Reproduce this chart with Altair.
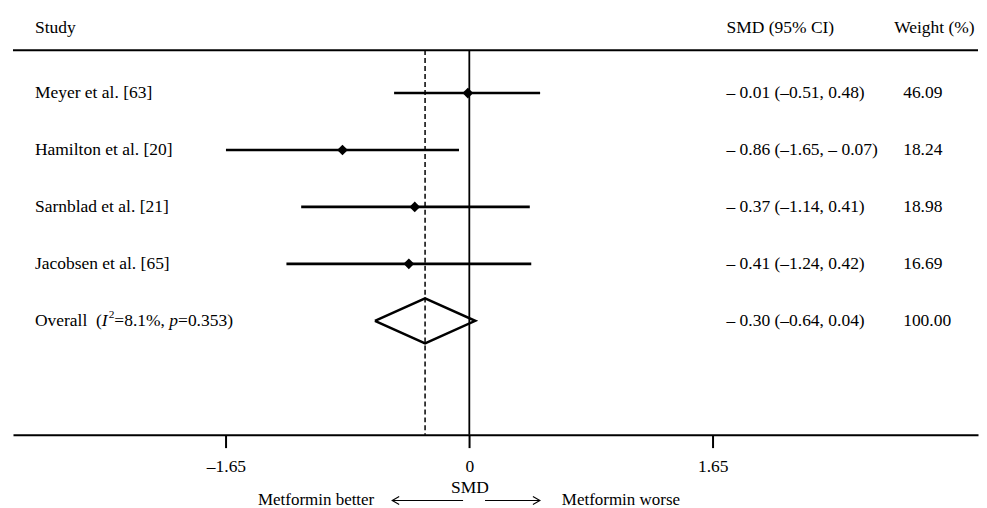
import altair as alt
import pandas as pd

# ---------------- data ----------------
studies = ["Meyer et al. [63]", "Hamilton et al. [20]", "Sarnblad et al. [21]", "Jacobsen et al. [65]"]
smd = [-0.01, -0.86, -0.37, -0.41]
ci_low = [-0.51, -1.65, -1.14, -1.24]
ci_high = [0.48, -0.07, 0.41, 0.42]
weights = [46.09, 18.24, 18.98, 16.69]
overall_smd = -0.30
overall_low = -0.64
overall_high = 0.04
overall_weight = 100.00
i_squared = "8.1%"
p_value = "0.353"
tick_values = [-1.65, 0, 1.65]
headers = ["Study", "SMD (95% CI)", "Weight (%)"]
x_title = "SMD"
left_note = "Metformin better"
right_note = "Metformin worse"

# ---------------- style ----------------
F = 17.5
FONT = "Liberation Serif"
W, H = 967, 425
X_DOMAIN = [-3.094, 3.449]
Y_DOMAIN = [-0.45, 7]
HEADER_ROW = -0.14
RULE_ROW = 0.246
AXIS_ROW = 7
DIAMOND_HALF = 0.395
COL_STUDY, COL_SMD, COL_WHDR, COL_W = 22, 715, 883, 892

xscale = alt.Scale(domain=X_DOMAIN, nice=False, zero=False)
yscale = alt.Scale(domain=Y_DOMAIN, reverse=True, nice=False, zero=False)

xaxis = alt.Axis(
    values=tick_values, grid=False, domainColor="black", domainWidth=2,
    tickColor="black", tickWidth=2, tickSize=13, labelFont=FONT, labelFontSize=F,
    labelColor="black", labelPadding=10, labelOverlap=False, labelFlush=False,
    labelExpr="datum.value == 0 ? '0' : (datum.value < 0 ? '\u2013' : '') + format(abs(datum.value), '.2f')",
    title=x_title, titleFont=FONT, titleFontSize=F, titleFontWeight="normal", titleColor="black",
    titleX=457.3, titleY=53, titleBaseline="middle", titleAlign="center",
)


def X(field):
    return alt.X(field, type="quantitative", scale=xscale, axis=xaxis)


def Y(field):
    return alt.Y(field, type="quantitative", scale=yscale, axis=None)


def neg(v, space):
    s = f"{abs(v):.2f}"
    if v < 0:
        return "\u2013" + (" " if space else "") + s
    return s


def ci_text(e, lo, hi):
    return f"{neg(e, True)} ({neg(lo, False)}, {neg(hi, True)})"


rows = list(range(1, len(studies) + 1))
overall_row = len(studies) + 1

df = pd.DataFrame({
    "study": studies, "smd": smd, "lo": ci_low, "hi": ci_high, "row": rows,
    "ci": [ci_text(e, l, h) for e, l, h in zip(smd, ci_low, ci_high)],
    "w": [f"{w:.2f}" for w in weights],
})
df_over = pd.DataFrame({
    "row": [overall_row],
    "ci": [ci_text(overall_smd, overall_low, overall_high)],
    "w": [f"{overall_weight:.2f}"],
})

# Times/Liberation Serif advance widths (per 1000 em)
WR = {" ": 250, "(": 333, ")": 333, "%": 833, ",": 250, ".": 250, "=": 564,
      "O": 722, "v": 500, "e": 444, "r": 333, "a": 444, "l": 278}
for d in "0123456789":
    WR[d] = 500
WI = {"I": 333, "p": 500}


def tw(s, size=F, table=WR):
    return sum(table[c] for c in s) * size / 1000.0


SUP = F * 0.65
x0 = COL_STUDY
x_par = x0 + tw("Overall") + 2 * tw(" ")
x_I = x_par + tw("(")
x_2 = x_I + tw("I", table=WI) + 1
x_eq = x_2 + tw("2", size=SUP)
x_p = x_eq + tw("=" + i_squared + ", ")
x_rest = x_p + tw("p", table=WI)

seg_normal = pd.DataFrame({
    "t": ["Overall", "(", "=" + i_squared + ",", "=" + p_value + ")"],
    "px": [x0, x_par, x_eq, x_rest],
    "row": [overall_row] * 4,
})
seg_italic = pd.DataFrame({"t": ["I", "p"], "px": [x_I, x_p], "row": [overall_row] * 2})
seg_sup = pd.DataFrame({"t": ["2"], "px": [x_2], "row": [overall_row]})

txt = dict(font=FONT, fontSize=F, color="black", baseline="middle", align="left")

layers = []

# top rule
layers.append(alt.Chart(pd.DataFrame({"row": [RULE_ROW]})).mark_rule(color="black", strokeWidth=2).encode(
    x=alt.value(0), x2=alt.value(W), y=Y("row")))

# vertical reference lines
vl = pd.DataFrame({"x": [0.0], "y1": [RULE_ROW], "y2": [AXIS_ROW]})
layers.append(alt.Chart(vl).mark_rule(color="black", strokeWidth=1.8).encode(
    x=X("x"), y=Y("y1"), y2="y2"))
vd = pd.DataFrame({"x": [overall_smd], "y1": [RULE_ROW], "y2": [AXIS_ROW]})
layers.append(alt.Chart(vd).mark_rule(color="black", strokeWidth=1.5, strokeDash=[5, 3]).encode(
    x=X("x"), y=Y("y1"), y2="y2"))

# CIs
layers.append(alt.Chart(df).mark_rule(color="black", strokeWidth=2.6).encode(
    x=X("lo"), x2="hi", y=Y("row")))
layers.append(alt.Chart(df).mark_point(shape="diamond", filled=True, size=115, color="black", opacity=1).encode(
    x=X("smd"), y=Y("row")))

# overall diamond
dia = pd.DataFrame({
    "x": [overall_low, overall_smd, overall_high, overall_smd, overall_low],
    "y": [overall_row, overall_row - DIAMOND_HALF, overall_row, overall_row + DIAMOND_HALF, overall_row],
    "o": [0, 1, 2, 3, 4],
})
layers.append(alt.Chart(dia).mark_line(color="black", strokeWidth=2.5, strokeJoin="miter").encode(
    x=X("x"), y=Y("y"), order="o:Q"))

# text columns
layers.append(alt.Chart(df).mark_text(**txt).encode(x=alt.value(COL_STUDY), y=Y("row"), text="study"))
layers.append(alt.Chart(df).mark_text(**txt).encode(x=alt.value(COL_SMD), y=Y("row"), text="ci"))
layers.append(alt.Chart(df).mark_text(**txt).encode(x=alt.value(COL_W), y=Y("row"), text="w"))
layers.append(alt.Chart(df_over).mark_text(**txt).encode(x=alt.value(COL_SMD), y=Y("row"), text="ci"))
layers.append(alt.Chart(df_over).mark_text(**txt).encode(x=alt.value(COL_W), y=Y("row"), text="w"))

# overall label pieces
layers.append(alt.Chart(seg_normal).mark_text(**txt).encode(x=alt.X("px:Q", scale=None), y=Y("row"), text="t"))
layers.append(alt.Chart(seg_italic).mark_text(fontStyle="italic", **txt).encode(
    x=alt.X("px:Q", scale=None), y=Y("row"), text="t"))
layers.append(alt.Chart(seg_sup).mark_text(font=FONT, fontSize=SUP, color="black", baseline="middle",
                                           align="left", dy=-6).encode(
    x=alt.X("px:Q", scale=None), y=Y("row"), text="t"))

# headers
hdr = pd.DataFrame({"t": headers, "px": [COL_STUDY, COL_SMD, COL_WHDR], "row": [HEADER_ROW] * 3})
layers.append(alt.Chart(hdr).mark_text(**txt).encode(x=alt.X("px:Q", scale=None), y=Y("row"), text="t"))

# bottom notes with arrows
NOTE_Y = H + 66
FN = 17
layers.append(alt.Chart(pd.DataFrame({"t": [left_note]})).mark_text(
    font=FONT, fontSize=FN, color="black", baseline="middle", align="right").encode(
    x=alt.value(362), y=alt.value(NOTE_Y), text="t"))
layers.append(alt.Chart(pd.DataFrame({"t": [right_note]})).mark_text(
    font=FONT, fontSize=FN, color="black", baseline="middle", align="left").encode(
    x=alt.value(550), y=alt.value(NOTE_Y), text="t"))
layers.append(alt.Chart(pd.DataFrame({"a": [0]})).mark_rule(color="black", strokeWidth=1).encode(
    x=alt.value(380), x2=alt.value(451), y=alt.value(NOTE_Y)))
layers.append(alt.Chart(pd.DataFrame({"a": [0]})).mark_rule(color="black", strokeWidth=1).encode(
    x=alt.value(473), x2=alt.value(528), y=alt.value(NOTE_Y)))
layers.append(alt.Chart(pd.DataFrame({"a": [0]})).mark_point(
    shape="M1.75,-1L0,0L1.75,1", filled=False, size=64, color="black", strokeWidth=1.1, opacity=1).encode(
    x=alt.value(380), y=alt.value(NOTE_Y)))
layers.append(alt.Chart(pd.DataFrame({"a": [0]})).mark_point(
    shape="M-1.75,-1L0,0L-1.75,1", filled=False, size=64, color="black", strokeWidth=1.1, opacity=1).encode(
    x=alt.value(528), y=alt.value(NOTE_Y)))

chart = alt.layer(*layers).properties(
    width=W, height=H, padding={"left": 4, "top": 2, "right": 0, "bottom": 0},
    background="white",
).configure_view(stroke=None)

chart.save("out.html", embed_options={"renderer": "svg", "actions": False})
